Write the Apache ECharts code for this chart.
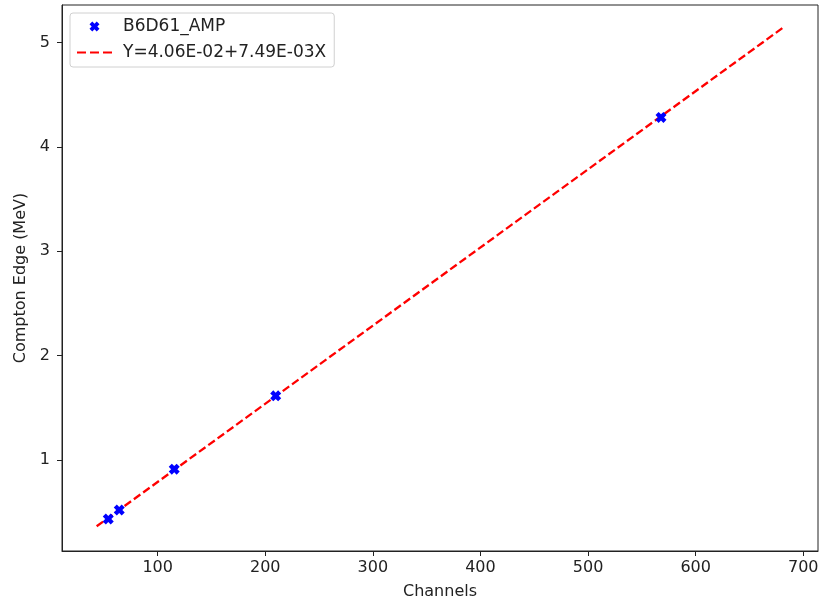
<!DOCTYPE html>
<html>
<head>
<meta charset="utf-8">
<title>Compton Edge Calibration</title>
<script src="https://cdn.jsdelivr.net/npm/echarts@6/dist/echarts.min.js"></script>
<style>
  html, body { margin: 0; padding: 0; background: #fff; }
  #chart { width: 828px; height: 607px; }
</style>
</head>
<body>
<div id="chart"></div>
<script>
// Measured calibration points: channel vs. Compton edge energy
const channels = [54.1, 64.3, 115.4, 209.7, 567.8];
const comptonEdge = [0.435, 0.521, 0.912, 1.615, 4.283];

// Linear fit Y = a + bX, drawn over 0.8*min .. 1.2*max of the channels
const fitIntercept = 4.06e-2;
const fitSlope = 7.49e-3;
const fitX = [43.3, 681.4];

const xTicks = [100, 200, 300, 400, 500, 600, 700];
const yTicks = [1, 2, 3, 4, 5];

const seriesName = 'B6D61_AMP';
const fitName = 'Y=4.06E-02+7.49E-03X';

const pointData = channels.map((c, i) => [c, comptonEdge[i]]);
const fitData = fitX.map(x => [x, fitIntercept + fitSlope * x]);

// filled "X" marker with thick arms
const xMarker = 'path://M0,2.8L2.8,0L5,2.2L7.2,0L10,2.8L7.8,5L10,7.2L7.2,10L5,7.8L2.8,10L0,7.2L2.2,5Z';
// three short dashes for the fit-line legend key
const dashKey = 'path://M0,0h9v2.2h-9z M13,0h9v2.2h-9z M26,0h9v2.2h-9z';

const font = 'DejaVu Sans';
const ink = '#222';

const chart = echarts.init(document.getElementById('chart'), null, { renderer: 'canvas' });
chart.setOption({
  animation: false,
  backgroundColor: '#fff',
  textStyle: { fontFamily: font },
  grid: {
    left: 62, right: 10, top: 5, bottom: 56,
    show: true, borderColor: ink, borderWidth: 1, backgroundColor: 'transparent'
  },
  legend: {
    left: 70, top: 13,
    orient: 'vertical',
    padding: [5, 8, 6, 7],
    itemWidth: 35, itemHeight: 10, itemGap: 9,
    backgroundColor: '#fff',
    borderColor: '#d0d0d0', borderWidth: 1, borderRadius: 3,
    textStyle: { fontFamily: font, fontSize: 17, color: ink, padding: [0, 0, 0, 6] },
    data: [
      { name: seriesName, icon: xMarker, itemStyle: { color: '#0000ff', opacity: 1 } },
      { name: fitName, icon: dashKey, itemStyle: { color: '#ff0000', opacity: 1 } }
    ]
  },
  xAxis: {
    type: 'value',
    min: 11.1, max: 713.7,
    name: 'Channels',
    nameLocation: 'middle', nameGap: 33,
    nameTextStyle: { fontFamily: font, fontSize: 16, color: ink },
    axisLine: { show: true, lineStyle: { color: ink, width: 1 } },
    axisTick: { show: true, length: 5, lineStyle: { color: ink }, customValues: xTicks },
    axisLabel: { fontFamily: font, fontSize: 16, color: ink, margin: 9, customValues: xTicks },
    splitLine: { show: false }
  },
  yAxis: {
    type: 'value',
    min: 0.128, max: 5.36,
    name: 'Compton Edge (MeV)',
    nameLocation: 'middle', nameGap: 32,
    nameTextStyle: { fontFamily: font, fontSize: 16, color: ink },
    axisLine: { show: true, lineStyle: { color: ink, width: 1 } },
    axisTick: { show: true, length: 5, lineStyle: { color: ink }, customValues: yTicks },
    axisLabel: { fontFamily: font, fontSize: 16, color: ink, margin: 12, customValues: yTicks },
    splitLine: { show: false }
  },
  series: [
    {
      name: fitName,
      type: 'line',
      data: fitData,
      symbol: 'none',
      z: 2,
      lineStyle: { color: '#ff0000', width: 2.3, type: [8, 3.5] },
      itemStyle: { color: '#ff0000' }
    },
    {
      name: seriesName,
      type: 'scatter',
      data: pointData,
      symbol: xMarker,
      symbolSize: 11,
      z: 3,
      itemStyle: { color: '#0000ff', opacity: 1 }
    }
  ]
});
</script>
</body>
</html>
